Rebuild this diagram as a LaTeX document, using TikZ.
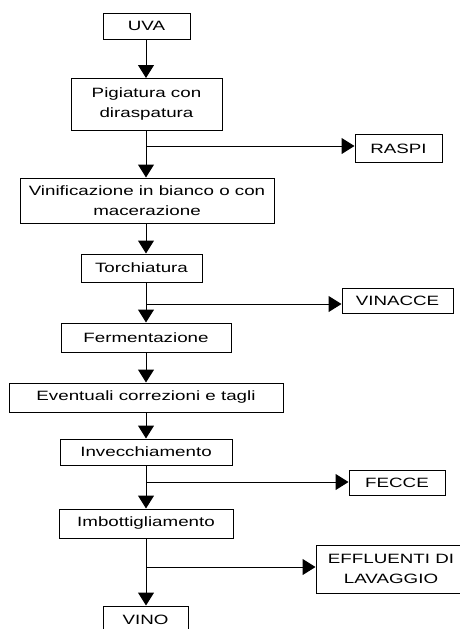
\documentclass[tikz,border=0pt]{standalone}
\usepackage{fontspec}
\setmainfont{Liberation Sans}[FakeStretch=1.39]
\usetikzlibrary{arrows.meta}
\begin{document}
\begin{tikzpicture}[x=1pt,y=-1pt,
  box/.style={draw,line width=1pt,inner sep=0pt,align=center,
    font=\fontsize{13.5}{20.5}\selectfont},
  arr/.style={line width=1pt,-{Triangle[length=13pt,width=16pt]}},
  ln/.style={line width=1pt}]
\useasboundingbox (0,0) rectangle (460,629);
\clip (0,0) rectangle (460,629);
\fill[white] (0,0) rectangle (460,629);
\node[box,minimum width=87pt,minimum height=26pt] (uva) at (146.5,26) {UVA};
\node[box,minimum width=151pt,minimum height=52pt] (pig) at (146.5,104) {Pigiatura con\\diraspatura};
\node[box,minimum width=87pt,minimum height=28pt] (raspi) at (398.5,148.5) {RASPI};
\node[box,minimum width=254pt,minimum height=45pt] (vin) at (147,200.5) {Vinificazione in bianco o con\\macerazione};
\node[box,minimum width=121pt,minimum height=28pt] (tor) at (141.5,268) {Torchiatura};
\node[box,minimum width=111pt,minimum height=25pt] (vinacce) at (397.5,300.5) {VINACCE};
\node[box,minimum width=170pt,minimum height=29pt] (fer) at (146,337.5) {Fermentazione};
\node[box,minimum width=274pt,minimum height=29pt] (eve) at (146,397.5) {Eventuali correzioni e tagli};
\node[box,minimum width=172pt,minimum height=26pt] (inv) at (146,452) {Invecchiamento};
\node[box,minimum width=96pt,minimum height=25pt] (fecce) at (397,482.5) {FECCE};
\node[box,minimum width=174pt,minimum height=29pt] (imb) at (146,523.5) {Imbottigliamento};
\node[box,minimum width=150pt,minimum height=48pt] (eff) at (391,569) {EFFLUENTI DI\\LAVAGGIO};
\node[box,minimum width=85pt,minimum height=28pt] (vino) at (145.5,620) {VINO};
\coordinate (c1) at (146,146);
\coordinate (c2) at (146,304);
\coordinate (c3) at (146,482);
\coordinate (c4) at (146,567);
\draw[arr] (146,39) -- (146,78);
\draw[arr] (pig.south -| c1) -- (vin.north -| c1);
\draw[arr] (vin.south -| c1) -- (tor.north -| c1);
\draw[arr] (tor.south -| c1) -- (fer.north -| c1);
\draw[arr] (fer.south -| c1) -- (eve.north -| c1);
\draw[arr] (eve.south -| c1) -- (inv.north -| c1);
\draw[arr] (inv.south -| c1) -- (imb.north -| c1);
\draw[arr] (imb.south -| c1) -- (vino.north -| c1);
\draw[arr] (c1) -- (c1 -| raspi.west);
\draw[arr] (c2) -- (c2 -| vinacce.west);
\draw[arr] (c3) -- (c3 -| fecce.west);
\draw[arr] (c4) -- (c4 -| eff.west);
\end{tikzpicture}
\end{document}
